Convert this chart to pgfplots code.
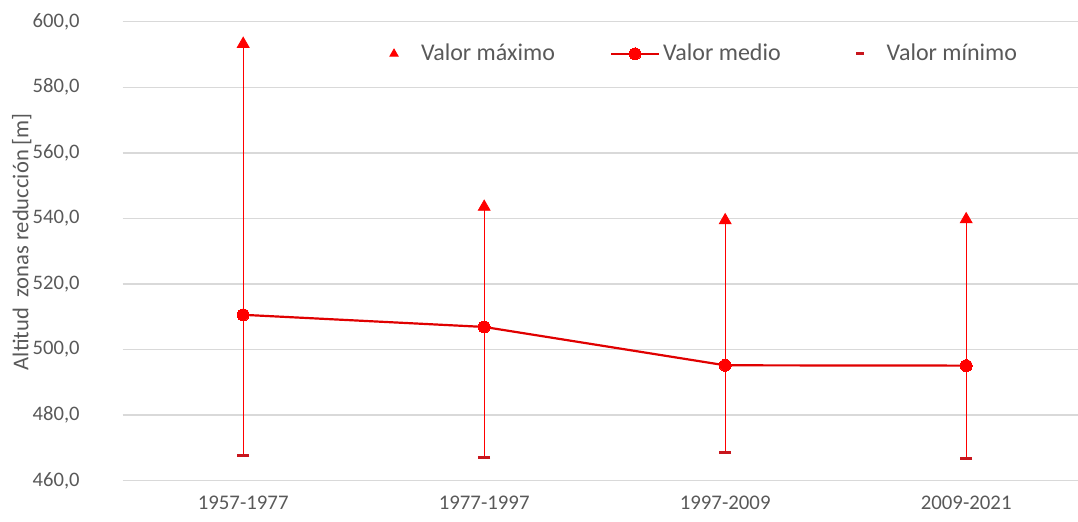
\documentclass[border=0pt]{standalone}
\usepackage{pgfplots}
\pgfplotsset{compat=1.18}
\usepackage{pgfplotstable}
\usepackage{fontspec}
\setmainfont{Carlito}

\definecolor{txt}{HTML}{595959}
\definecolor{gridc}{HTML}{D9D9D9}
\definecolor{hi}{HTML}{FF0000}
\definecolor{mid}{HTML}{E00000}
\definecolor{lo}{HTML}{C8161D}

\pgfplotsset{
    leg max/.style={legend image code/.code={\path[draw=none,fill=none] (0pt,-3pt) rectangle (24pt,3pt);
        \draw[mark repeat=2,mark phase=2,##1,mark size=2.4pt]
        plot coordinates {(0pt,0pt) (12pt,0pt) (24pt,0pt)};}},
    leg mean/.style={legend image code/.code={\path[draw=none,fill=none] (0pt,-3pt) rectangle (24pt,3pt);
        \draw[mark repeat=2,mark phase=2,##1]
        plot coordinates {(0pt,0pt) (12pt,0pt) (24pt,0pt)};}},
    leg min/.style={legend image code/.code={\path[draw=none,fill=none] (0pt,-3pt) rectangle (24pt,3pt);
        \draw[mark repeat=2,mark phase=2,##1,mark size=2pt]
        plot coordinates {(0pt,0pt) (12pt,0pt) (24pt,0pt)};}},
}

% altitud por periodo: maximo, medio, minimo
\pgfplotstableread{
x max mean min
0 593.2 510.6 467.8
1 543.5 506.9 467.1
2 539.4 495.2 468.5
3 539.7 495.1 466.8
}\altdata

\begin{document}
\begin{tikzpicture}
\begin{axis}[
    name=ax,
    scale only axis,
    width=477.65pt, height=229.5pt,
    xmin=-0.5, xmax=3.464,
    ymin=460, ymax=600,
    ytick={460,480,...,600},
    xtick={0,1,2,3},
    xticklabels={1957-1977,1977-1997,1997-2009,2009-2021},
    axis line style={draw=none},
    major tick length=0pt,
    ymajorgrids=true,
    grid style={gridc, line width=0.75pt},
    yticklabel style={font=\fontsize{10.3}{12}\selectfont, text=txt, xshift=-18pt,
        /pgf/number format/.cd, fixed, fixed zerofill, precision=1, use comma, assume math mode=true},
    xticklabel style={font=\fontsize{10.4}{12}\selectfont, text=txt, yshift=-4pt},
    ylabel={Altitud\ \ zonas reducción [m]},
    ylabel style={at={(axis description cs:-0.1057,0.521)}, anchor=center,
        font=\fontsize{11.3}{13}\selectfont, text=txt},
    legend columns=3,
    legend cell align=left,
    legend style={at={(axis description cs:0.2589,0.930)}, anchor=west,
        draw=none, fill=none, inner sep=0pt, outer sep=0pt,
        font=\fontsize{12}{14}\selectfont, text=txt,
        nodes={inner xsep=1.5pt, inner ysep=1pt},
        /tikz/every even column/.append style={column sep=26pt}},
]
\addplot[hi, only marks, mark=triangle*, mark size=3.4pt, leg max,
    error bars/.cd, y dir=minus, y explicit, error mark=none,
    error bar style={hi, line width=0.6pt}]
    table[x=x, y=max, y error minus expr=\thisrow{max}-\thisrow{min}] {\altdata};
\addlegendentry{Valor máximo}

\addplot[mid, line width=1.1pt, mark=*, mark size=3pt,
    mark options={fill=hi, draw=hi, line width=0pt}, leg mean]
    table[x=x, y=mean] {\altdata};
\addlegendentry{Valor medio}

\addplot[lo, only marks, mark=-, mark size=3pt, mark options={line width=1.5pt}, leg min]
    table[x=x, y=min] {\altdata};
\addlegendentry{Valor mínimo}
\end{axis}
\pgfresetboundingbox
\path ([shift={(-61.35pt,-20.15pt)}]ax.south west) rectangle ([shift={(0pt,10.85pt)}]ax.north east);
\end{tikzpicture}
\end{document}
